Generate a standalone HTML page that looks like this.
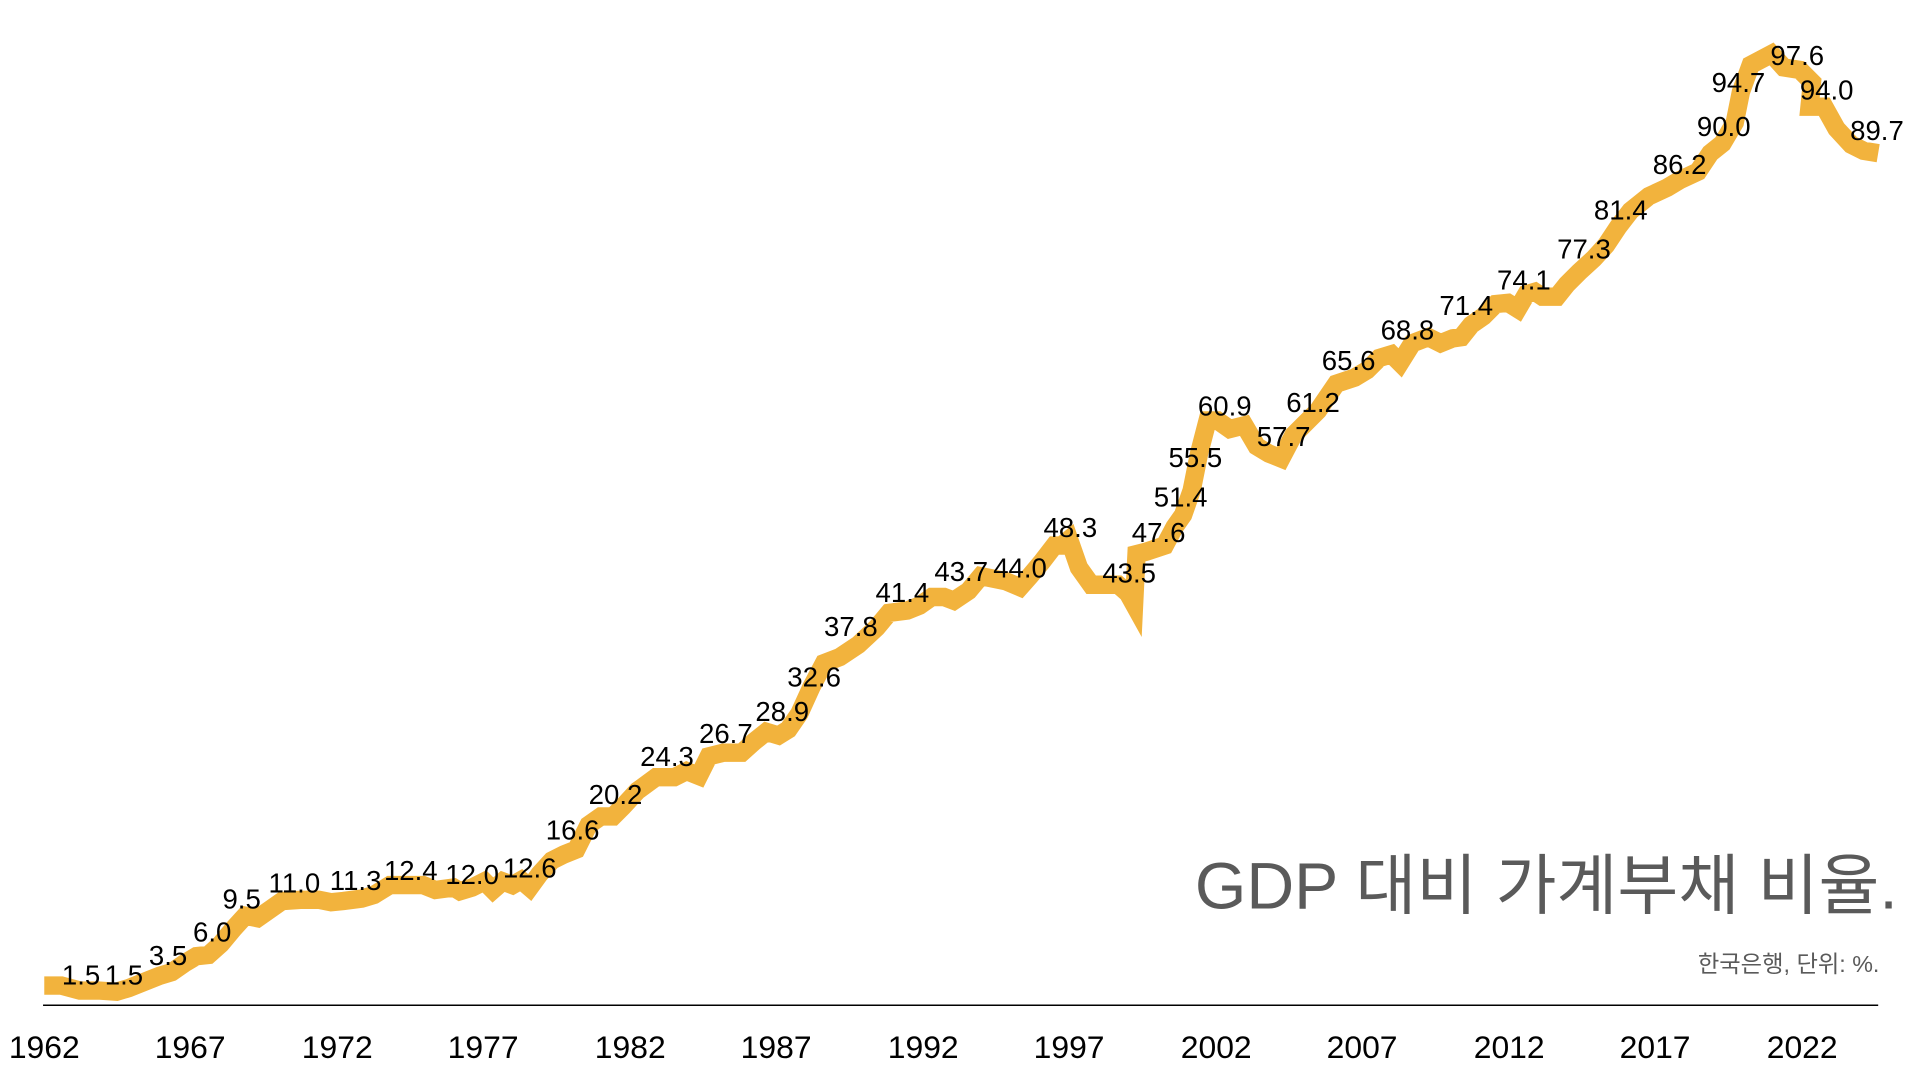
<!DOCTYPE html>
<html><head><meta charset="utf-8"><style>
html,body{margin:0;padding:0;background:#fff;}
svg{display:block;}
text{font-family:"Liberation Sans","Noto Sans CJK KR",sans-serif;}
</style></head><body>
<svg width="1920" height="1080" viewBox="0 0 1566 881" xmlns="http://www.w3.org/2000/svg">
<polyline fill="none" stroke="#F2B33D" stroke-width="15" stroke-linejoin="miter" points="36,804 50,804 65,808 80,808 95,809 105,806 120,800 130,796 140,793 150,786 160,780 170,779 180,770 190,758 200,747 210,749 220,742 230,735 245,734 260,734 270,736 280,735 295,733 305,730 318,722 330,722 345,722 355,726 370,724 375,727 385,724 395,719 402,726 410,719 418,722 425,718 432,724 440,713 450,702 460,697 470,693 480,673 490,666 500,666 508,658 520,645 535,634 550,634 560,629 570,633 578,617 590,614 605,614 615,605 625,597 635,600 643,595 652,582 662,560 672,541 685,536 700,526 715,512 725,500 740,498 750,494 760,487 770,487 778,490 790,482 800,470 810,472 820,474 832,479 840,470 850,458 860,445 866,445 872,440 880,463 890,477 905,477 912,477 920,484 925,493 927,452 935,450 950,445 958,430 965,420 972,400 978,370 985,343 993,343 1003,350 1015,347 1025,364 1035,370 1045,374 1055,355 1065,345 1075,335 1090,313 1105,308 1115,302 1125,292 1135,289 1142,296 1152,280 1165,275 1175,280 1185,276 1192,275 1200,265 1210,258 1220,248 1230,247 1238,252 1245,240 1252,238 1258,242 1270,242 1278,232 1288,222 1300,211 1310,200 1320,185 1330,172 1345,160 1360,153 1370,147 1385,140 1395,125 1405,117 1415,100 1420,75 1428,53 1445,44 1455,55 1468,57 1478,67 1476,87 1488,87 1498,105 1510,118 1520,123 1532,125"/>
<line x1="35" y1="820" x2="1532" y2="820" stroke="#000" stroke-width="1.2"/>
<g font-size="26" text-anchor="middle" fill="#000">
<text x="36" y="863">1962</text><text x="155" y="863">1967</text><text x="275" y="863">1972</text><text x="394" y="863">1977</text><text x="514" y="863">1982</text><text x="633" y="863">1987</text><text x="753" y="863">1992</text><text x="872" y="863">1997</text><text x="992" y="863">2002</text><text x="1111" y="863">2007</text><text x="1231" y="863">2012</text><text x="1350" y="863">2017</text><text x="1470" y="863">2022</text>
</g>
<g font-size="22.5" text-anchor="middle" fill="#000">
<text x="66" y="803">1.5</text><text x="101" y="803">1.5</text><text x="137" y="787">3.5</text><text x="173" y="768">6.0</text><text x="197" y="741">9.5</text><text x="240" y="728">11.0</text><text x="290" y="726">11.3</text><text x="335" y="718">12.4</text><text x="385" y="721">12.0</text><text x="432" y="716">12.6</text><text x="467" y="685">16.6</text><text x="502" y="656">20.2</text><text x="544" y="625">24.3</text><text x="592" y="606">26.7</text><text x="638" y="588">28.9</text><text x="664" y="560">32.6</text><text x="694" y="519">37.8</text><text x="736" y="491">41.4</text><text x="784" y="474">43.7</text><text x="832" y="471">44.0</text><text x="873" y="438">48.3</text><text x="921" y="475">43.5</text><text x="945" y="442">47.6</text><text x="963" y="413">51.4</text><text x="975" y="381">55.5</text><text x="999" y="339">60.9</text><text x="1047" y="364">57.7</text><text x="1071" y="336">61.2</text><text x="1100" y="302">65.6</text><text x="1148" y="277">68.8</text><text x="1196" y="257">71.4</text><text x="1243" y="236">74.1</text><text x="1292" y="211">77.3</text><text x="1322" y="179">81.4</text><text x="1370" y="142">86.2</text><text x="1406" y="111">90.0</text><text x="1418" y="75">94.7</text><text x="1466" y="53">97.6</text><text x="1490" y="81">94.0</text><text x="1531" y="114">89.7</text>
</g>
<text x="1548" y="741" font-size="54" text-anchor="end" fill="#5a5a5a">GDP 대비 가계부채 비율.</text>
<text x="1533" y="793" font-size="19" text-anchor="end" fill="#5a5a5a">한국은행, 단위: %.</text>
</svg>
</body></html>
